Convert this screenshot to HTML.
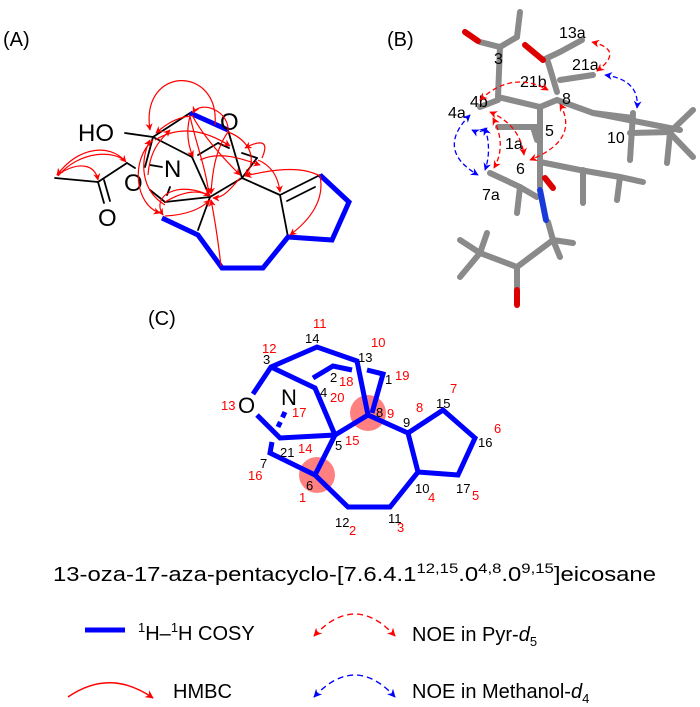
<!DOCTYPE html>
<html><head><meta charset="utf-8"><style>
html,body{margin:0;padding:0;background:#fff;}
svg{display:block;font-family:"Liberation Sans",Arial,sans-serif;}
</style></head><body>
<svg width="700" height="707" viewBox="0 0 700 707" xmlns="http://www.w3.org/2000/svg">
<defs>
<marker id="ar" viewBox="0 0 10 10" refX="9" refY="5" markerWidth="6" markerHeight="6" orient="auto-start-reverse"><path d="M0,0 L10,5 L0,10 L3,5 z" fill="#f00"/></marker>
<marker id="ab" viewBox="0 0 10 10" refX="9" refY="5" markerWidth="6" markerHeight="6" orient="auto-start-reverse"><path d="M0,0 L10,5 L0,10 L3,5 z" fill="#00f"/></marker>
</defs>

<!-- Panel A -->
<text x="3" y="46" font-size="20">(A)</text>
<g stroke="#000" stroke-width="1.8" fill="none" stroke-linecap="round">
<line x1="125" y1="133" x2="153" y2="137"/>
<line x1="153" y1="137" x2="190" y2="113"/>
<line x1="153" y1="137" x2="192" y2="157"/>
<line x1="153" y1="137" x2="145" y2="167"/>
<line x1="150" y1="165" x2="162" y2="167"/>
<line x1="192" y1="157" x2="210" y2="197"/>
<line x1="150" y1="190" x2="165" y2="202"/>
<line x1="165" y1="202" x2="210" y2="197"/>
<line x1="170" y1="187" x2="167" y2="195"/>
<line x1="210" y1="197" x2="198" y2="230"/>
<line x1="210" y1="197" x2="242" y2="178"/>
<line x1="228" y1="130" x2="242" y2="178"/>
<line x1="242" y1="178" x2="257" y2="158"/>
<line x1="242" y1="153" x2="257" y2="158"/>
<line x1="198" y1="155" x2="218" y2="143"/>
<line x1="218" y1="143" x2="229" y2="148"/>
<line x1="242" y1="178" x2="280" y2="195"/>
<line x1="280" y1="195" x2="320" y2="175"/>
<line x1="287" y1="201" x2="315" y2="187"/>
<line x1="280" y1="195" x2="288" y2="237"/>
<line x1="127" y1="163" x2="98" y2="182"/>
<line x1="98" y1="182" x2="55" y2="178"/>
<line x1="98" y1="182" x2="104" y2="203"/>
<line x1="104" y1="180" x2="110" y2="201"/>
<line x1="127" y1="163" x2="135" y2="168"/>
</g>
<g stroke="#00f" stroke-width="5" fill="none" stroke-linejoin="miter">
<polyline points="190,113 228,130"/>
<polyline points="162,218 198,235 222,268 263,268 288,237 332,240 349,202 320,175"/>
</g>
<g font-size="24" fill="#000">
<text x="78" y="141">HO</text>
<text x="220" y="130">O</text>
<text x="164" y="177">N</text>
<text x="124" y="191">O</text>
<text x="98" y="226">O</text>
</g>
<g stroke="#f00" stroke-width="1.2" fill="none" marker-end="url(#ar)">
<path d="M215,125 C220,65 140,65 150,130"/>
<path d="M190,116 C175,118 165,125 156,133"/>
<path d="M124,160 C110,145 80,145 57,175"/>
<path d="M57,175 C80,160 95,165 98,180"/>
<path d="M58,176 C80,150 115,150 126,162"/>
<path d="M190,116 C185,135 190,150 193,157"/>
<path d="M190,116 C195,140 205,165 209,194"/>
<path d="M192,115 C205,140 230,165 240,175"/>
<path d="M228,132 C215,150 212,175 211,194"/>
<path d="M228,132 C250,140 258,160 245,176"/>
<path d="M228,132 C230,110 200,100 193,113"/>
<path d="M155,140 C180,125 205,130 230,146"/>
<path d="M210,196 C180,180 150,195 163,215"/>
<path d="M165,216 C185,215 200,210 210,200"/>
<path d="M221,266 C218,240 215,220 211,200"/>
<path d="M165,202 C185,190 200,190 210,196"/>
<path d="M240,178 C225,196 220,198 213,198"/>
<path d="M262,158 C270,140 260,140 245,148"/>
<path d="M258,160 C270,165 278,175 280,192"/>
<path d="M320,176 C300,165 270,170 245,176"/>
<path d="M320,176 C325,200 310,220 290,235"/>
<path d="M153,140 C130,160 135,205 160,213"/>
<path d="M148,175 C150,150 160,140 170,130"/>
<path d="M165,205 C140,190 140,160 150,140"/>
<path d="M200,160 C220,150 245,160 260,165"/>
</g>

<!-- Panel B -->
<text x="387" y="46" font-size="20">(B)</text>
<g stroke-linecap="round" fill="none">
<g id="sticks" stroke="#8a8a8a" stroke-width="6">
<polyline points="480,42 500,47 517,37"/>
<line x1="517" y1="37" x2="520" y2="12"/>
<line x1="500" y1="47" x2="498" y2="97"/>
<polyline points="543,60 560,52 582,40"/>
<line x1="548" y1="62" x2="557" y2="92"/>
<line x1="560" y1="80" x2="593" y2="75"/>
<polyline points="498,97 540,107 557,100 593,113 680,130"/>
<line x1="593" y1="113" x2="633" y2="118"/>
<line x1="633" y1="113" x2="630" y2="160"/>
<polyline points="630,133 670,132 693,110"/>
<line x1="670" y1="133" x2="667" y2="163"/>
<line x1="670" y1="133" x2="693" y2="157"/>
<line x1="540" y1="107" x2="540" y2="187"/>
<line x1="498" y1="127" x2="537" y2="127"/>
<line x1="533" y1="127" x2="537" y2="140"/>
<line x1="480" y1="107" x2="498" y2="100"/>
<polyline points="540,162 580,170 620,177 643,182"/>
<line x1="583" y1="170" x2="583" y2="203"/>
<line x1="620" y1="177" x2="617" y2="200"/>
<polyline points="490,173 520,187 537,197"/>
<line x1="520" y1="187" x2="517" y2="213"/>
<polyline points="548,222 553,240 573,243"/>
<line x1="553" y1="240" x2="560" y2="257"/>
<polyline points="553,240 517,267 480,253 460,277"/>
<line x1="480" y1="253" x2="487" y2="233"/>
<line x1="480" y1="253" x2="460" y2="240"/>
<line x1="517" y1="267" x2="517" y2="288"/>
</g>
<g stroke="#d00" stroke-width="6">
<line x1="465" y1="32" x2="478" y2="41"/>
<line x1="525" y1="45" x2="543" y2="60"/>
<line x1="517" y1="290" x2="517" y2="305"/>
<line x1="545" y1="178" x2="553" y2="188"/>
</g>
<g stroke="#1a3ad8" stroke-width="6"><line x1="540" y1="190" x2="546" y2="220"/></g>
</g>
<g font-size="16" fill="#000">
<text x="494" y="64">3</text>
<text x="559" y="38">13a</text>
<text x="572" y="70">21a</text>
<text x="520" y="87">21b</text>
<text x="470" y="107">4b</text>
<text x="562" y="104">8</text>
<text x="448" y="118">4a</text>
<text x="545" y="136">5</text>
<text x="505" y="149">1a</text>
<text x="607" y="143">10</text>
<text x="516" y="174">6</text>
<text x="482" y="200">7a</text>
</g>
<g stroke="#f00" stroke-width="1.3" fill="none" stroke-dasharray="5,3" marker-end="url(#ar)" marker-start="url(#ar)">
<path d="M480,100 Q512,70 548,90"/>
<path d="M592,42 Q625,50 597,71"/>
<path d="M560,104 Q580,140 530,160"/>
<path d="M490,112 Q520,125 524,155"/>
<path d="M493,118 Q507,145 494,168"/>
</g>
<g stroke="#00f" stroke-width="1.3" fill="none" stroke-dasharray="5,3" marker-end="url(#ab)" marker-start="url(#ab)">
<path d="M605,75 Q640,80 637,108"/>
<path d="M470,115 Q435,150 478,175"/>
<path d="M485,128 Q492,150 485,170"/>
<path d="M472,130 Q480,134 487,128"/>
</g>

<!-- Panel C -->
<text x="148" y="325" font-size="20">(C)</text>
<circle cx="368" cy="413" r="18" fill="#f55" opacity="0.75"/>
<circle cx="317" cy="475" r="18" fill="#f55" opacity="0.75"/>
<g stroke="#00f" stroke-width="5" fill="none" stroke-linejoin="miter">
<polyline points="253,394 271,367 317,347 357,361 368,415 408,433 418,472 390,507 348,507 315,475 335,435 315,388 271,367"/>
<polyline points="313,378 333,366 352,370"/>
<polyline points="367,370 383,374 372,413"/>
<polyline points="257,415 280,438 335,435 368,415"/>
<polyline points="272,442 270,453 315,475"/>
<polyline points="408,433 443,410 475,438 458,475 418,472"/>
<line x1="285" y1="412" x2="278" y2="427" stroke-dasharray="6,5"/>
</g>
<text x="238" y="413" font-size="22">O</text>
<text x="281" y="405" font-size="22">N</text>
<g font-size="13" fill="#000">
<text x="263" y="364">3</text><text x="305" y="343">14</text><text x="358" y="362">13</text>
<text x="330" y="382">2</text><text x="385" y="384">1</text><text x="320" y="397">4</text>
<text x="376" y="417">8</text><text x="403" y="427">9</text><text x="436" y="408">15</text>
<text x="478" y="447">16</text><text x="335" y="450">5</text><text x="280" y="457">21</text>
<text x="260" y="468">7</text><text x="306" y="490">6</text><text x="415" y="493">10</text>
<text x="456" y="493">17</text><text x="335" y="527">12</text><text x="388" y="523">11</text>
</g>
<g font-size="13" fill="#f00">
<text x="313" y="328">11</text><text x="371" y="347">10</text><text x="262" y="353">12</text>
<text x="221" y="410">13</text><text x="339" y="386">18</text><text x="330" y="402">20</text>
<text x="395" y="380">19</text><text x="292" y="417">17</text><text x="387" y="418">9</text>
<text x="416" y="412">8</text><text x="450" y="393">7</text><text x="494" y="433">6</text>
<text x="345" y="445">15</text><text x="298" y="453">14</text><text x="248" y="480">16</text>
<text x="299" y="502">1</text><text x="428" y="502">4</text><text x="472" y="500">5</text>
<text x="349" y="535">2</text><text x="397" y="532">3</text>
</g>

<!-- Title -->
<text x="53" y="581" font-size="20" textLength="603" lengthAdjust="spacingAndGlyphs">13-oza-17-aza-pentacyclo-[7.6.4.1<tspan font-size="14" dy="-8">12,15</tspan><tspan dy="8">.0</tspan><tspan font-size="14" dy="-8">4,8</tspan><tspan dy="8">.0</tspan><tspan font-size="14" dy="-8">9,15</tspan><tspan dy="8">]eicosane</tspan></text>

<!-- Legend -->
<line x1="85" y1="630" x2="125" y2="630" stroke="#00f" stroke-width="5"/>
<text x="138" y="640" font-size="20"><tspan font-size="13" dy="-8">1</tspan><tspan dy="8">H–</tspan><tspan font-size="13" dy="-8">1</tspan><tspan dy="8">H COSY</tspan></text>
<path d="M314,636 Q355,592 395,636" stroke="#f00" stroke-width="1.4" fill="none" stroke-dasharray="6,4" marker-start="url(#ar)" marker-end="url(#ar)"/>
<text x="412" y="641" font-size="20">NOE in Pyr-<tspan font-style="italic">d</tspan><tspan font-size="13" dy="5">5</tspan></text>
<path d="M68,697 Q110,668 153,698" stroke="#f00" stroke-width="1.4" fill="none" marker-end="url(#ar)"/>
<text x="173" y="698" font-size="20">HMBC</text>
<path d="M314,697 Q355,653 395,697" stroke="#00f" stroke-width="1.4" fill="none" stroke-dasharray="6,4" marker-start="url(#ab)" marker-end="url(#ab)"/>
<text x="412" y="698" font-size="20">NOE in Methanol-<tspan font-style="italic">d</tspan><tspan font-size="13" dy="5">4</tspan></text>
</svg>
</body></html>
